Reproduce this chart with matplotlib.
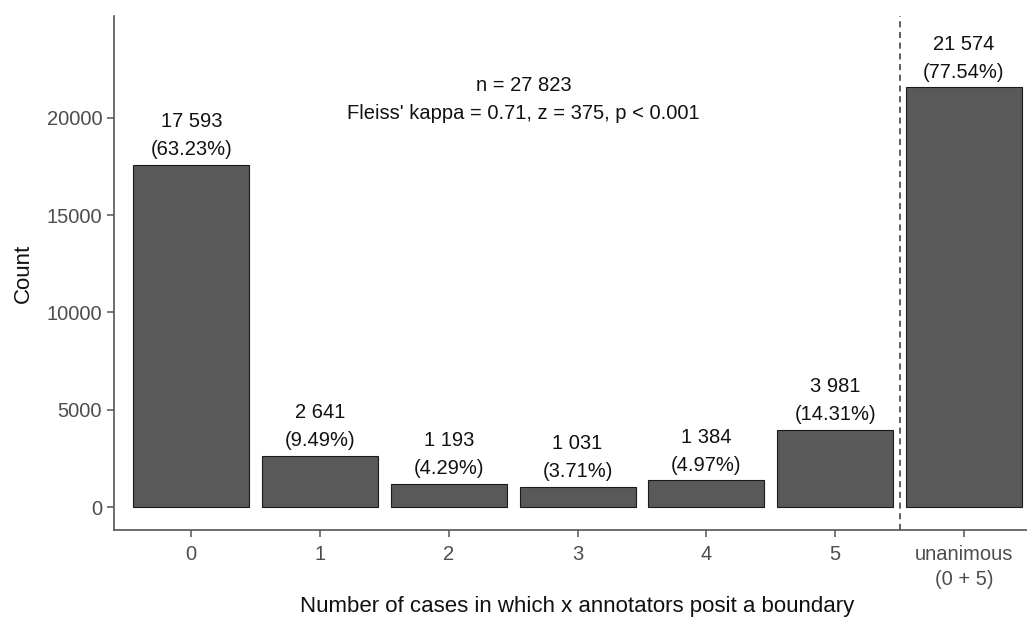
import matplotlib.pyplot as plt

plt.rcParams['font.family'] = ['Liberation Sans', 'DejaVu Sans']

categories = ['0', '1', '2', '3', '4', '5', 'unanimous\n(0 + 5)']
counts = [17593, 2641, 1193, 1031, 1384, 3981, 21574]
count_labels = ['17 593', '2 641', '1 193', '1 031', '1 384', '3 981', '21 574']
pct_labels = ['63.23%', '9.49%', '4.29%', '3.71%', '4.97%', '14.31%', '77.54%']
yticks = [0, 5000, 10000, 15000, 20000]

fig = plt.figure(figsize=(10.27, 6.19), dpi=100)
ax = fig.add_axes([114 / 1027, 1 - 530 / 619, (1027 - 114) / 1027, (530 - 16) / 619])

x = list(range(len(categories)))
ax.bar(x, counts, width=0.9, color='#595959', edgecolor='#1a1a1a', linewidth=0.8)

for xi, c, cl, pl in zip(x, counts, count_labels, pct_labels):
    ax.annotate(f'{cl}\n({pl})', (xi, c), xytext=(0, 4), textcoords='offset points',
                ha='center', va='bottom', fontsize=14.5, color='#111111', linespacing=1.6)

ax.axvline(5.5, color='#333333', linestyle=(0, (4, 3)), linewidth=1.1)

ax.text(2.58, 20950, "n = 27 823\nFleiss' kappa = 0.71, z = 375, p < 0.001",
        ha='center', va='center', fontsize=14.5, color='#111111', linespacing=1.6)

ax.set_xlim(-0.6, 6.49)
ax.set_ylim(-1180, 25230)
ax.set_xticks(x)
ax.set_xticklabels(categories, linespacing=1.4)
ax.set_yticks(yticks)

ax.spines['top'].set_visible(False)
ax.spines['right'].set_visible(False)
for s in ['left', 'bottom']:
    ax.spines[s].set_color('#555555')
    ax.spines[s].set_linewidth(1.2)
ax.tick_params(axis='both', colors='#555555', labelcolor='#4d4d4d', labelsize=14.5, length=5, width=1.1)
ax.tick_params(axis='x', pad=6)

ax.set_ylabel('Count', fontsize=16, color='#111111')
ax.yaxis.set_label_coords(-0.088, 0.5)
ax.set_xlabel('Number of cases in which x annotators posit a boundary', fontsize=16,
              color='#111111')
ax.xaxis.set_label_coords(0.507, -0.128)

fig.savefig('out.png', dpi=100)
